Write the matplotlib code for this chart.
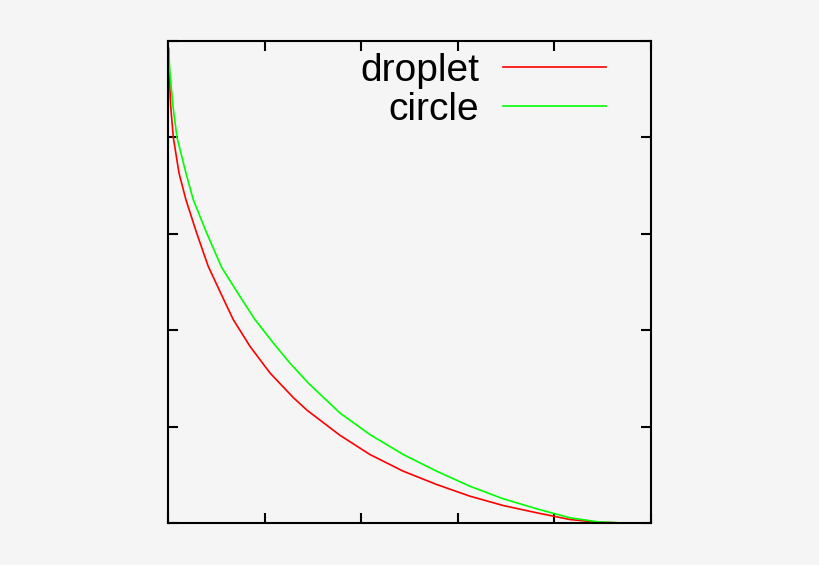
import matplotlib.pyplot as plt

# Data (axis units = tick intervals, 0..5)
droplet_x = [0.0, 0.007, 0.013, 0.028, 0.055, 0.114, 0.186, 0.297, 0.417, 0.59, 0.676, 0.849,
             1.056, 1.298, 1.439, 1.78, 2.091, 2.436, 2.782, 3.126, 3.471, 3.817, 4.161, 4.45, 4.71]
droplet_y = [4.95, 4.91, 4.67, 4.32, 4.0, 3.63, 3.352, 3.007, 2.661, 2.29, 2.109, 1.832,
             1.556, 1.30, 1.17, 0.91, 0.71, 0.537, 0.399, 0.278, 0.181, 0.106, 0.036, 0.008, 0.0]

circle_x = [0.0, 0.007, 0.02, 0.052, 0.093, 0.186, 0.262, 0.401, 0.556, 0.745, 0.901, 1.091,
            1.263, 1.453, 1.78, 2.091, 2.436, 2.782, 3.126, 3.471, 3.817, 4.161, 4.45, 4.71]
circle_y = [4.95, 4.91, 4.67, 4.32, 4.0, 3.63, 3.352, 3.007, 2.65, 2.35, 2.109, 1.866,
            1.658, 1.451, 1.141, 0.917, 0.71, 0.537, 0.381, 0.251, 0.147, 0.054, 0.012, 0.0]

ticks = [0, 1, 2, 3, 4, 5]

plt.rcParams['font.family'] = ['Liberation Sans', 'DejaVu Sans']

bg = '#f5f5f5'
fig = plt.figure(figsize=(8.2, 5.65), dpi=100, facecolor=bg)
ax = fig.add_axes([168 / 820, 42 / 565, 483 / 820, 482 / 565])
ax.set_facecolor(bg)

ax.plot(droplet_x, droplet_y, color='#ff0000', linewidth=1.2, label='droplet')
ax.plot(circle_x, circle_y, color='#00ff00', linewidth=1.2, label='circle')

ax.set_xlim(0, 5)
ax.set_ylim(0, 5)
ax.set_xticks(ticks)
ax.set_yticks(ticks)
ax.set_xticklabels([])
ax.set_yticklabels([])
ax.tick_params(direction='in', length=7, width=1.5, top=True, right=True)
for s in ax.spines.values():
    s.set_linewidth(1.5)

ax.legend(loc='upper right', bbox_to_anchor=(0.907, 0.975), markerfirst=False, frameon=False,
          fontsize=28, handlelength=2.65, handletextpad=0.62, labelspacing=0.07,
          borderpad=0, borderaxespad=0)

plt.savefig('out.png', dpi=100, facecolor=bg)
